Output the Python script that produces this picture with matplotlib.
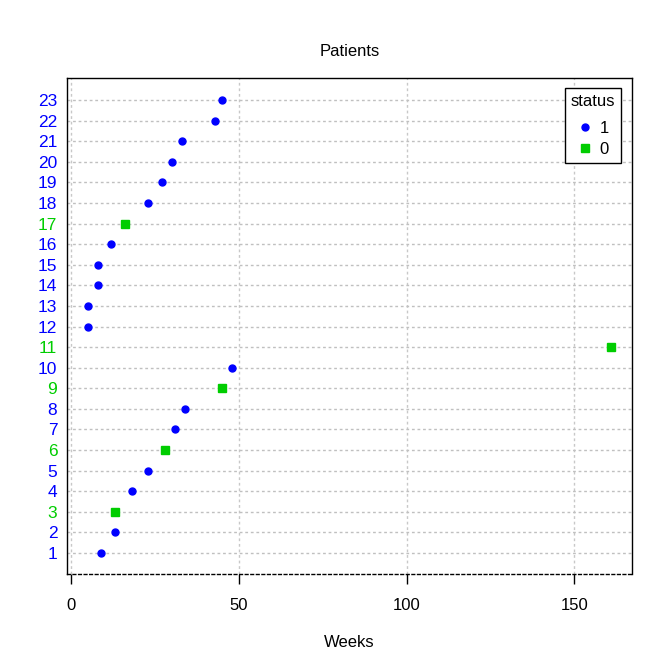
import numpy as np
import matplotlib
matplotlib.use('Agg')
import matplotlib.pyplot as plt

plt.rcParams['font.family'] = ['Liberation Sans', 'DejaVu Sans']

# aml data: weeks and status per patient
patients = list(range(1, 24))
weeks = [9, 13, 13, 18, 23, 28, 31, 34, 45, 48, 161,
         5, 5, 8, 8, 12, 16, 23, 27, 30, 33, 43, 45]
status = [1, 1, 0, 1, 1, 0, 1, 1, 0, 1, 0,
          1, 1, 1, 1, 1, 0, 1, 1, 1, 1, 1, 1]

blue = '#0000FF'
green = '#00CD00'

fig = plt.figure(figsize=(6.72, 6.72), dpi=100)
ax = fig.add_axes([0.0997, 0.1458, 0.8408, 0.7381])

x = np.array(weeks)
y = np.array(patients)
s = np.array(status)

ax.set_xlim(-1.24, 167.24)
ax.set_ylim(-0.02, 24.07)

for xv in [0, 50, 100, 150]:
    ax.axvline(xv, color='#c8c8c8', linestyle=(0, (2, 2)), linewidth=1, zorder=0)
for yv in patients:
    ax.axhline(yv, color='#c0c0c0', linestyle=(0, (2, 2)), linewidth=1, zorder=0)

h1, = ax.plot(x[s == 1], y[s == 1], 'o', color=blue, markersize=5, linestyle='none')
h0, = ax.plot(x[s == 0], y[s == 0], 's', color=green, markersize=6, linestyle='none')

ax.set_yticks(patients)
ax.set_yticklabels([str(p) for p in patients])
for lab, st in zip(ax.get_yticklabels(), status):
    lab.set_color(blue if st == 1 else green)
ax.tick_params(axis='y', length=0, pad=7, labelsize=12.5)

ax.set_xticks([0, 50, 100, 150])
ax.tick_params(axis='x', length=7, width=1, pad=10, labelsize=12)

ax.spines['bottom'].set_linestyle((0, (2, 2)))
for sp in ax.spines.values():
    sp.set_linewidth(1)

ax.set_title('Patients', fontsize=12, pad=16)
ax.set_xlabel('Weeks', fontsize=12, labelpad=16)

leg = ax.legend([h1, h0], ['1', '0'], title='status', loc='upper right',
                bbox_to_anchor=(0.981, 0.98), borderaxespad=0, fancybox=False,
                edgecolor='black', framealpha=1, fontsize=12, title_fontsize=12,
                handletextpad=0.4, handlelength=0.9, borderpad=0.35, labelspacing=0.35)
leg._legend_box.sep = 9
leg.get_frame().set_linewidth(1)

plt.savefig('out.png', dpi=100)
